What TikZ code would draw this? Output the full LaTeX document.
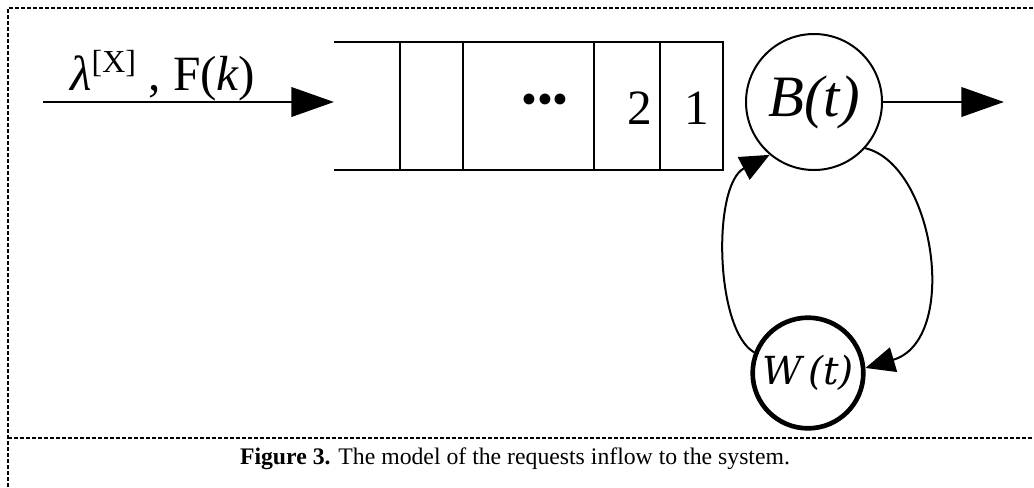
\documentclass[tikz,border=0pt]{standalone}
\usepackage{fontspec}
\setmainfont{Liberation Serif}
\newfontfamily\wfont{DejaVu Serif}
\usetikzlibrary{arrows.meta, positioning, shapes}

\begin{document}
\begin{tikzpicture}[x=0.75pt, y=-0.75pt]
\tikzstyle{frame} = [draw, dash pattern=on 3pt off 1.5pt, line width=0.9pt]
\tikzstyle{queue} = [draw, line width=1.3pt]
\tikzstyle{cell} = [inner sep=0pt, font=\fontsize{37}{37}\selectfont]
\tikzstyle{server} = [circle, draw, line width=1.5pt, minimum size=102pt, inner sep=0pt,
    font=\fontsize{44}{44}\selectfont\itshape]
\tikzstyle{orbit} = [circle, draw, line width=3.5pt, minimum size=83pt, inner sep=0pt,
    font=\fontsize{29}{29}\wfont\itshape]
\tikzstyle{line} = [draw, line width=2.2pt, -{Triangle[length=32pt, width=22pt]}]
\tikzstyle{retry} = [draw, line width=1.5pt, -{Triangle[length=22pt, width=19pt]}]
    \useasboundingbox (0,0) rectangle (1034,487);

    % frame
    \draw[frame] (8,487) -- (8,8) -- (1034,8);
    \draw[frame] (8,438) -- (1034,438);

    % queue
    \draw[queue] (334,42) -- (723,42) -- (723,170) -- (334,170);
    \foreach \x in {400,463,594,660}
        \draw[queue] (\x,42) -- (\x,170);
    \node[cell, font=\fontsize{34}{34}\selectfont] (dots) at (545,104) {\textbullet\textbullet\textbullet};
    \node[cell] (two) at (640,108) {2};
    \node[cell] (one) at (697,108) {1};

    % Place nodes
    \coordinate (src) at (43,102);
    \coordinate (qin) at (334,102);
    \coordinate (sink) at (1004,102);
    \node[anchor=base west, inner sep=0pt, font=\fontsize{37}{37}\selectfont] (rate) at (70,90)
        {{\itshape λ}\raisebox{0.36em}{\fontsize{24}{24}\selectfont [X]} , F({\itshape k})};
    \node[server] (busy) at (814,102) {\raisebox{4pt}{B(t)}};
    \node[orbit] (wait) at (808,373) {W\,(t)};
    \node[font=\fontsize{17.8}{17.8}\selectfont] (caption) at (515,459)
        {\textbf{Figure 3.} The model of the requests inflow to the system.};

%paths
    \path [line] (src) -- (qin);
    \path [line] (busy) -- (sink);
    \path [retry] (wait.159) .. controls (715,330) and (712,185) .. (busy.230);
    \path [retry] (busy.318) .. controls (935,165) and (960,340) .. (wait.5);

\end{tikzpicture}
\end{document}
